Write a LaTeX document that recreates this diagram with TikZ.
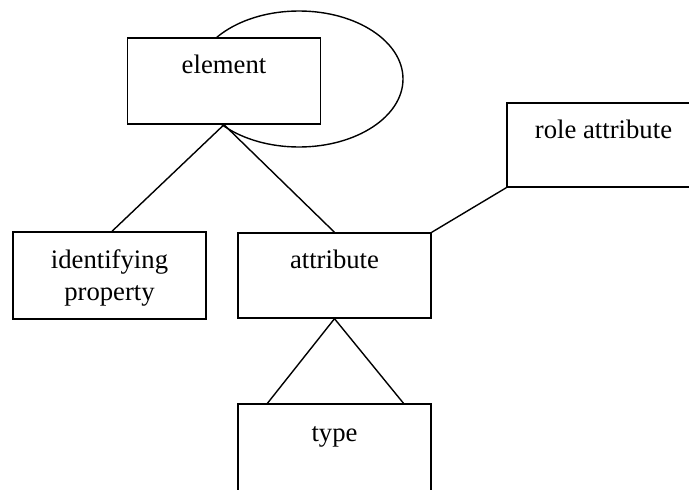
\documentclass[tikz,border=0pt]{standalone}
\usepackage{fontspec}
\setmainfont{Liberation Serif}
\usetikzlibrary{calc,shapes.geometric}
\begin{document}
\begin{tikzpicture}[x=1pt,y=-1pt,
  box/.style={draw=black, line width=1.4pt, fill=white, rectangle, inner sep=0pt, minimum width=193pt},
  lbl/.style={anchor=base, inner sep=0pt, font=\fontsize{26.7}{30}\selectfont},
  conn/.style={draw=black, line width=1.4pt}]
\useasboundingbox (0,0) rectangle (689,490);
\clip (0,0) rectangle (689,490);
% ellipse behind element box
\node[draw=black, line width=1.4pt, ellipse, minimum width=208pt, minimum height=136pt, inner sep=0pt] (loop) at (299,79) {};
\node[box, minimum height=86pt] (element) at (224,81) {};
\node[lbl] (elementtext) at (224,73) {element};
\node[box, minimum height=87pt] (idprop) at (109.5,275.5) {};
\node[lbl] (idtext1) at (109.5,268) {identifying};
\node[lbl] (idtext2) at (109.5,300) {property};
\node[box, minimum height=85pt] (attribute) at (334.5,275.5) {};
\node[lbl] (attrtext) at (334.5,268) {attribute};
\node[box, minimum height=120pt] (type) at (334.5,464) {};
\node[lbl] (typetext) at (334.5,441) {type};
\node[box, minimum height=84pt] (role) at (603.5,145) {};
\node[lbl] (roletext) at (603.5,138) {role attribute};
% connectors
\draw[conn] (element.south) -- ($(idprop.north)+(2.5,0)$);
\draw[conn] (element.south) -- (attribute.north);
\draw[conn] (attribute.north east) -- (role.south west);
\draw[conn] ($(type.north west)!0.155!(type.north east)$) -- (attribute.south) -- ($(type.north west)!0.855!(type.north east)$);
\end{tikzpicture}
\end{document}
